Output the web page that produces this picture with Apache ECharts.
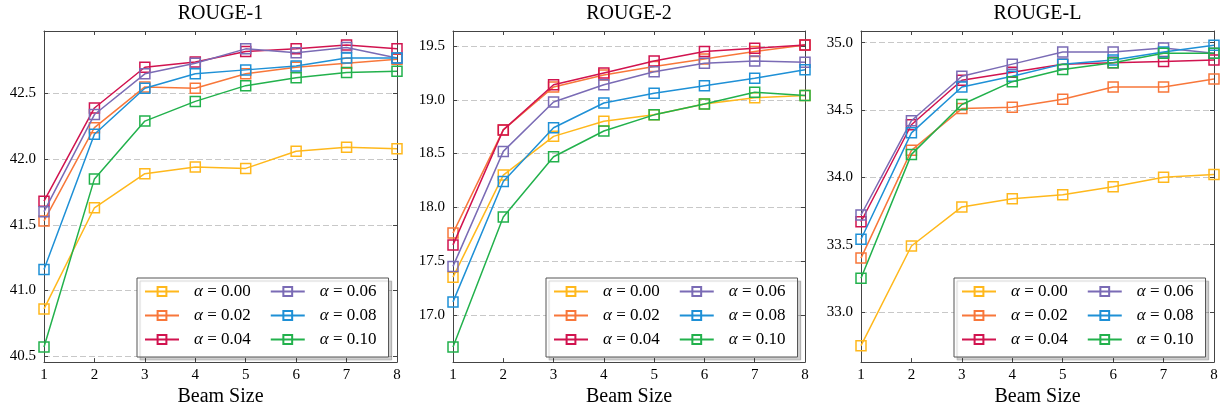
<!DOCTYPE html>
<html>
<head>
<meta charset="utf-8">
<script src="https://cdn.jsdelivr.net/npm/echarts@6/dist/echarts.min.js"></script>
<style>
  html, body { margin: 0; padding: 0; background: #fff; }
  #chart { width: 1222px; height: 412px; }
</style>
</head>
<body>
<div id="chart"></div>
<script>
// beam sizes on the x axis
const beamSizes = [1, 2, 3, 4, 5, 6, 7, 8];
const alphas = ['0.00', '0.02', '0.04', '0.06', '0.08', '0.10'];
const colors = ['#ffb81c', '#f8773a', '#d1134f', '#7a6bb5', '#1e90d6', '#22b14c'];

// one row per alpha, one column per beam size
const rouge1Scores = [
  [40.86, 41.63, 41.89, 41.94, 41.93, 42.06, 42.09, 42.08],
  [41.53, 42.24, 42.55, 42.54, 42.65, 42.70, 42.73, 42.76],
  [41.68, 42.39, 42.70, 42.74, 42.82, 42.84, 42.87, 42.84],
  [41.60, 42.34, 42.65, 42.73, 42.84, 42.81, 42.85, 42.77],
  [41.16, 42.19, 42.54, 42.65, 42.68, 42.71, 42.77, 42.77],
  [40.57, 41.85, 42.29, 42.44, 42.56, 42.62, 42.66, 42.67]
];
const rouge2Scores = [
  [17.35, 18.30, 18.66, 18.80, 18.86, 18.96, 19.02, 19.04],
  [17.76, 18.72, 19.12, 19.23, 19.31, 19.38, 19.45, 19.51],
  [17.65, 18.72, 19.14, 19.25, 19.36, 19.45, 19.48, 19.51],
  [17.45, 18.52, 18.98, 19.14, 19.26, 19.34, 19.36, 19.35],
  [17.12, 18.24, 18.74, 18.97, 19.06, 19.13, 19.20, 19.28],
  [16.70, 17.91, 18.47, 18.71, 18.86, 18.96, 19.07, 19.04]
];
const rougeLScores = [
  [32.75, 33.49, 33.78, 33.84, 33.87, 33.93, 34.00, 34.02],
  [33.40, 34.20, 34.51, 34.52, 34.58, 34.67, 34.67, 34.73],
  [33.67, 34.39, 34.72, 34.78, 34.84, 34.85, 34.86, 34.87],
  [33.72, 34.42, 34.75, 34.84, 34.93, 34.93, 34.96, 34.92],
  [33.54, 34.33, 34.67, 34.75, 34.84, 34.87, 34.93, 34.98],
  [33.25, 34.17, 34.54, 34.71, 34.80, 34.85, 34.92, 34.92]
];

const font = 'Liberation Serif';
const frame = '#444';

const panels = [
  {title: 'ROUGE-1', scores: rouge1Scores, yMin: 40.455, yMax: 42.976, left: 44, right: 825, legendLeft: 137},
  {title: 'ROUGE-2', scores: rouge2Scores, yMin: 16.56, yMax: 19.64, left: 453, right: 417, legendLeft: 546},
  {title: 'ROUGE-L', scores: rougeLScores, yMin: 32.628, yMax: 35.086, left: 861, right: 8, legendLeft: 954}
];

let grid = [], xAxis = [], yAxis = [], series = [], legend = [], title = [];

panels.forEach((p, i) => {
  grid.push({left: p.left, right: p.right, top: 31, bottom: 46});

  title.push({
    text: p.title,
    left: p.left + (1222 - p.left - p.right) / 2,
    top: 4,
    padding: 0,
    textAlign: 'center',
    textStyle: {fontFamily: font, fontSize: 20, fontWeight: 'normal', color: '#000'}
  });

  let xBase = {
    gridIndex: i, type: 'value', min: 1, max: 8, interval: 1,
    axisLine: {show: true, onZero: false, lineStyle: {color: frame, width: 1}},
    axisTick: {show: true, inside: true, length: 4, lineStyle: {color: frame}},
    splitLine: {show: false}
  };
  xAxis.push(Object.assign({}, xBase, {
    position: 'bottom',
    axisLabel: {fontFamily: font, fontSize: 15, color: '#000', margin: 5},
    name: 'Beam Size', nameLocation: 'middle', nameGap: 23,
    nameTextStyle: {fontFamily: font, fontSize: 20, color: '#000'}
  }));
  xAxis.push(Object.assign({}, xBase, {position: 'top', axisLabel: {show: false}}));

  let yBase = {
    gridIndex: i, type: 'value', min: p.yMin, max: p.yMax,
    minInterval: 0.5, maxInterval: 0.5,
    axisLine: {show: true, onZero: false, lineStyle: {color: frame, width: 1}},
    axisTick: {show: true, inside: true, length: 4, lineStyle: {color: frame}}
  };
  yAxis.push(Object.assign({}, yBase, {
    position: 'left',
    axisLabel: {
      fontFamily: font, fontSize: 15, color: '#000', margin: 8,
      formatter: v => Math.abs(v * 2 - Math.round(v * 2)) < 1e-6 ? v.toFixed(1) : ''
    },
    splitLine: {show: true, lineStyle: {color: '#c8c8c8', width: 1, type: [6, 3]}}
  }));
  yAxis.push(Object.assign({}, yBase, {
    position: 'right', axisLabel: {show: false}, splitLine: {show: false}
  }));

  alphas.forEach((a, j) => {
    series.push({
      type: 'line',
      name: a,
      xAxisIndex: 2 * i,
      yAxisIndex: 2 * i,
      data: beamSizes.map((b, k) => [b, p.scores[j][k]]),
      symbol: 'rect',
      symbolSize: 10,
      lineStyle: {color: colors[j], width: 1.5},
      itemStyle: {color: 'rgba(255,255,255,0)', borderColor: colors[j], borderWidth: 1.5},
      emphasis: {disabled: true},
      z: 2 + j
    });
  });

  // 3 rows x 2 columns, filled column by column
  legend.push({
    left: p.legendLeft, top: 278,
    orient: 'vertical', height: 70,
    itemWidth: 34, itemHeight: 11, itemGap: 7,
    padding: [5, 0, 9, 7],
    borderColor: '#555', borderWidth: 1, backgroundColor: '#fff',
    shadowColor: 'rgba(0,0,0,0.18)', shadowOffsetX: 3, shadowOffsetY: 3, shadowBlur: 1,
    selectedMode: false,
    data: alphas,
    formatter: n => '{a|α} = ' + n,
    textStyle: {
      fontFamily: font, fontSize: 17, color: '#000',
      // transparent box so the padding counts in the item width
      backgroundColor: 'rgba(255,255,255,0)',
      padding: [0, 12, 0, 10],
      rich: {a: {fontFamily: font, fontSize: 17, fontStyle: 'italic'}}
    }
  });
});

const chart = echarts.init(document.getElementById('chart'), null, {renderer: 'canvas'});
chart.setOption({
  animation: false,
  backgroundColor: '#fff',
  title: title,
  grid: grid,
  xAxis: xAxis,
  yAxis: yAxis,
  legend: legend,
  series: series
});
</script>
</body>
</html>
